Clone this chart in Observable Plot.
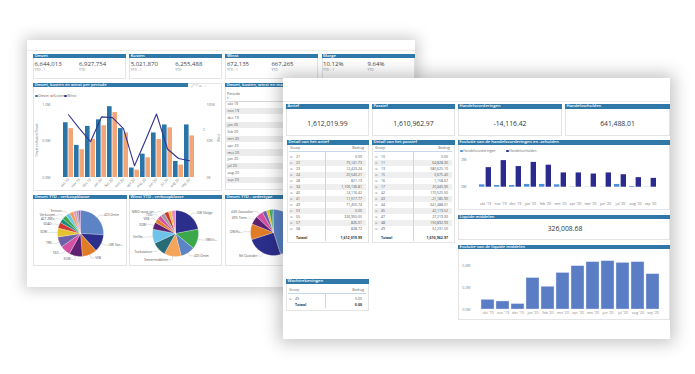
<!DOCTYPE html>
<html><head><meta charset="utf-8">
<script src="https://cdn.jsdelivr.net/npm/d3@7"></script>
<script src="https://cdn.jsdelivr.net/npm/@observablehq/plot@0.6"></script>
<style>
html,body{margin:0;padding:0;background:#fff;}
body{width:695px;height:374px;position:relative;overflow:hidden;font-family:"Open Sans","Noto Sans",sans-serif;}
.card{position:absolute;background:#fff;overflow:hidden;}
.hdr{position:absolute;background:#2f78a8;color:#fff;font-size:4.2px;font-weight:600;line-height:4.7px;height:4.7px;padding-left:1.5px;white-space:nowrap;overflow:hidden;box-sizing:border-box;}
svg{position:absolute;}
</style></head>
<body>
<script>
// ---------------- DATA ----------------
const months = ["okt 19","nov 19","dec 19","jan 20","feb 20","mrt 20","apr 20","mei 20","jun 20","jul 20","aug 20","sep 20"];
const monthsShort = ["okt '19","nov '19","dec '19","jan '20","feb '20","mrt '20","apr '20","mei '20","jun '20","jul '20","aug '20","sep '20"];
const omzetM  = [0.75,0.44,0.70,0.79,0.97,0.67,0.13,0.32,0.61,0.72,0.22,0.72];
const kostenM = [0.67,0.38,0.52,0.71,0.89,0.61,0.10,0.27,0.52,0.68,0.17,0.57];
const winstK  = [86,67,49,83,82,67,16,51,87,39,26,23];

const kpiNames = ["Omzet","Kosten","Winst","Marge"];
const kpiPrev  = ["6,644,013","5,021,870","672,135","10.12%"];
const kpiCur   = ["6,927,754","6,255,488","667,265","9.64%"];

const balNames  = ["Actief","Passief","Handelsvorderingen","Handelsschulden"];
const balValues = ["1,612,019.99","1,610,962.97","-14,116.42","641,488.01"];

const actiefGroups = ["21","22","23","24","28","34","40","41","49","53","55","57","58"];
const actiefValues = ["0.00","75,141.73","12,423.24","20,540.21","821.13","1,106,136.81","-14,116.42","11,017.77","71,450.74","0.00","326,950.05","826.01","828.72"];
const actiefTotal = "1,612,019.99";
const passiefGroups = ["10","11","13","15","16","17","42","43","44","45","47","48","49"];
const passiefValues = ["0.00","64,828.30","580,625.10","5,675.40","1,158.67","20,445.90","170,525.50","-21,185.90","641,488.01","42,119.52","27,219.30","150,892.93","52,231.50"];
const passiefTotal = "1,610,962.97";
const wachtGroups = ["49"];
const wachtValues = ["0.00"];
const wachtTotal = "0.00";

const vorderingenM = [0.17,0.12,0.12,0.20,0.20,0.17,0.02,0.01,0.01,0.20,0.05,-0.014];
const schuldenM    = [1.41,1.92,1.49,1.79,1.59,1.03,1.03,0.95,1.03,0.90,0.69,0.64];
const liquideValue = "326,008.68";
const liquideM     = [0.089,0.074,0.050,0.290,0.210,0.337,0.400,0.437,0.446,0.430,0.437,0.326];

const pie1Labels = ["420 Ontm","OW Van...","VKB","XGW","560","TRK","3OW...","60AD","ALT 2MIs","Verkoopm...","Entrust","","","",""];
const pie1Values = [25,12,10,9,7,7,6,4,3,3,3,2.5,2,1.5,1.5];
const pie1Colors = ["#5b83c6","#2c2e8c","#e07c28","#5c2170","#d44ea3","#6c60a8","#e4c22e","#d3342f","#1f8a7e","#3aa84b","#6ec3ea","#f19b4c","#e58fc4","#9e9e9e","#a35ac0"];
const pie2Labels = ["OW Vlakge","VWE/s...","420 Ontm","Smeermiddelen","Tankstation","Verlfw...","3OW","VKB","TDO","NWO vaste ver...","","",""];
const pie2Values = [22,14,10,12,10,10,5,3,3,3,3,2,3];
const pie2Colors = ["#2c2e8c","#3aa84b","#5b83c6","#f4a55a","#266b75","#6ec3ea","#5c2170","#e07c28","#d44ea3","#9e9e9e","#d3342f","#e4c22e","#e58fc4"];
const pie3Labels = ["Ntl Binnen","Ntl Outsider","OW/Ko...","49% Tiene","44% Gastsaker","","","",""];
const pie3Values = [45,25,11,6,5,3,2,2,1];
const pie3Colors = ["#5b83c6","#2c2e8c","#e07c28","#5c2170","#d44ea3","#6c60a8","#e4c22e","#3aa84b","#1f8a7e"];

// ---------------- HELPERS ----------------
const FONT = '"Open Sans","Noto Sans",sans-serif';
function card(x,y,w,h,z,shadow){const d=document.createElement("div");d.className="card";d.style.cssText=`left:${x}px;top:${y}px;width:${w}px;height:${h}px;z-index:${z};box-shadow:${shadow};`;d._x=x;d._y=y;document.body.appendChild(d);return d;}
function box(p,x,y,w,h,css){const d=document.createElement("div");d.style.cssText=`position:absolute;left:${x-p._x}px;top:${y-p._y}px;width:${w}px;height:${h}px;box-sizing:border-box;`+(css||"");p.appendChild(d);return d;}
function txt(p,x,y,s,css,align){const d=document.createElement("div");d.textContent=s;const tx=align==="c"?"-50%":align==="r"?"-100%":"0";d.style.cssText=`position:absolute;left:${x-p._x}px;top:${y-p._y}px;white-space:nowrap;line-height:1;transform:translate(${tx},-50%);`+(css||"");p.appendChild(d);return d;}
function hdr(p,x0,x1,y,s){const d=box(p,x0,y,x1-x0,4.7);d.className="hdr";d.textContent=s;return d;}
function place(p,svg,x,y){svg.style.position="absolute";svg.style.left=(x-p._x)+"px";svg.style.top=(y-p._y)+"px";p.appendChild(svg);}
function tile(p,x0,x1,y0,y1){box(p,x0,y0,x1-x0,y1-y0,"border:0.6px solid #e4e4e4;");}

// ---------------- BACK CARD ----------------
const back = card(27,40,388,247,1,"0 0 14px 3px rgba(0,0,0,0.20)");
box(back,27,50,388,0.8,"background:#ececec;");
kpiNames.forEach((n,i)=>{
  const x0=33+i*96.2;
  tile(back,x0,x0+93,53.5,79);
  hdr(back,x0,x0+93,53.5,n);
  txt(back,x0+1.5,64,kpiPrev[i],"font-size:6px;color:#444;");
  txt(back,x0+1.5,69.5,"YTD - 1","font-size:3.4px;color:#888;");
  txt(back,x0+46,64,kpiCur[i],"font-size:6px;color:#444;");
  txt(back,x0+46,69.5,"YTD","font-size:3.4px;color:#888;");
});
// combo chart tile
tile(back,33,222,82.5,191);
hdr(back,33,188,82.5,"Omzet, kosten en winst per periode");
txt(back,191,86,"⤢  ▽  ⊡  ⋯","font-size:4px;color:#999;");
const legA=[["Omzet","#2b74a8",35],["Kosten","#f2a677",50],["Winst","#34318f",64]];
legA.forEach(([n,c,x])=>{box(back,x,94.8,2.6,2.6,`background:${c};border-radius:50%;`);txt(back,x+3.3,96.1,n,"font-size:3.4px;color:#666;");});
txt(back,37,140,"Omzet en Kosten/Omzet","font-size:2.9px;color:#777;transform:translate(-50%,-50%) rotate(-90deg);","c");
txt(back,219,138,"Winst","font-size:2.9px;color:#777;transform:translate(-50%,-50%) rotate(-90deg);","c");
txt(back,203,130,"Σ","font-size:4px;color:#999;");

const rowsA = months.map((m,i)=>({m,omzet:omzetM[i],kosten:kostenM[i],winst:winstK[i]}));
{
  const W=190,ml=23,mr=22,pad=0.1;
  const bw=d3.scaleBand().domain(months).range([0,W-ml-mr]).padding(pad).bandwidth();
  const svg=Plot.plot({
    width:W,height:92,marginLeft:ml,marginRight:mr,marginTop:6,marginBottom:13,
    style:{fontSize:"3.6px",fontFamily:FONT,color:"#777",background:"transparent",overflow:"visible"},
    x:{domain:months,padding:pad,tickRotate:-45,tickSize:0,tickPadding:1.5,label:null},
    y:{domain:[0,1.0],ticks:[0,0.5,1],tickFormat:d=>d.toFixed(1)+"M",tickSize:0,tickPadding:6,label:null},
    marks:[
      Plot.barY(rowsA,{x:"m",y:"omzet",fill:"#2b74a8",insetRight:bw/2}),
      Plot.barY(rowsA,{x:"m",y:"kosten",fill:"#f2a677",insetLeft:bw/2}),
      Plot.line(rowsA,{x:"m",y:d=>d.winst/100,stroke:"#34318f",strokeWidth:1.1}),
      Plot.text([0,50,100],{y:d=>d/100,text:d=>d+"K",frameAnchor:"right",textAnchor:"start",dx:5,fill:"#777"})
    ]
  });
  place(back,svg,33,98);
}
// periode slicer
tile(back,225,300,82.5,190);
hdr(back,225,300,82.5,"Omzet, kosten, winst en marge");
txt(back,227,94,"Periode","font-size:3.6px;color:#555;");
txt(back,227,98.3,"▾","font-size:3px;color:#777;");
box(back,225.5,100.6,70,0.6,"background:#d8d8d8;");
months.forEach((m,i)=>{
  const y=104.2+i*6.9;
  if(i%2===1) box(back,225.5,y-3.2,70,6.4,"background:#ececec;");
  txt(back,227.5,y,m,"font-size:3.7px;color:#555;");
});
// pies
function pie(p,left,top,labels,values,colors){
  const R=23;
  const arcs=d3.pie().sort(null).value(d=>d)(values);
  const poly=[],leaders=[],labs=[];
  arcs.forEach((a,i)=>{
    poly.push({k:i,x:0,y:0});
    const n=Math.max(2,Math.ceil((a.endAngle-a.startAngle)/0.04));
    for(let j=0;j<=n;j++){const t=a.startAngle+(a.endAngle-a.startAngle)*j/n;poly.push({k:i,x:R*Math.sin(t),y:R*Math.cos(t)});}
    poly.push({k:i,x:0,y:0});
    if(labels[i]){
      const m=(a.startAngle+a.endAngle)/2,s=Math.sin(m)>=0?1:-1;
      const p0={x:R*Math.sin(m),y:R*Math.cos(m)},p1={x:R*1.15*Math.sin(m),y:R*1.15*Math.cos(m)},p2={x:p1.x+s*3.5,y:p1.y};
      leaders.push({k:i,...p0},{k:i,...p1},{k:i,...p2});
      labs.push({x:p2.x+s*0.8,y:p2.y,t:labels[i],s});
    }
  });
  const svg=Plot.plot({
    width:94,height:70,margin:0,
    style:{fontSize:"3.2px",fontFamily:FONT,background:"transparent",overflow:"visible"},
    x:{domain:[-47,47],axis:null},y:{domain:[-35,35],axis:null},
    color:{type:"identity"},
    marks:[
      Plot.line(poly,{x:"x",y:"y",z:"k",fill:d=>colors[d.k],stroke:"#fff",strokeWidth:0.25,strokeLinejoin:"round"}),
      Plot.line(leaders,{x:"x",y:"y",z:"k",stroke:"#aaa",strokeWidth:0.35}),
      Plot.text(labs.filter(d=>d.s>0),{x:"x",y:"y",text:"t",textAnchor:"start",fill:"#555"}),
      Plot.text(labs.filter(d=>d.s<0),{x:"x",y:"y",text:"t",textAnchor:"end",fill:"#555"})
    ]
  });
  place(p,svg,left,top);
}
[["Omzet YTD - verkoopklasse",33,127],["Winst YTD - verkoopklasse",129,222],["Omzet YTD - ordertype",225,319]].forEach(([n,a,b])=>{tile(back,a,b,194.5,266);hdr(back,a,b,194.5,n);});
pie(back,33,198,pie1Labels,pie1Values,pie1Colors);
pie(back,128,198,pie2Labels,pie2Values,pie2Colors);
pie(back,226,197,pie3Labels,pie3Values,pie3Colors);

// ---------------- FRONT CARD ----------------
const front = card(283,78,387,261,2,"0 0 16px 4px rgba(0,0,0,0.24)");
box(front,283,100.5,387,0.8,"background:#ececec;");
const balX=[[286,369],[372,455],[458,562],[565,670]];
balNames.forEach((n,i)=>{
  const [a,b]=balX[i];
  tile(front,a,b,104,136);
  hdr(front,a,b,104,n);
  txt(front,(a+b)/2,124,balValues[i],"font-size:6.8px;color:#333;","c");
});
function table(p,x0,x1,xSep,yHead,groups,vals,total,title,yTitle,yEnd){
  tile(p,x0,x1,yTitle,yEnd);
  hdr(p,x0,x1,yTitle,title);
  txt(p,x0+3,yHead,"Groep","font-size:3.5px;color:#666;");
  txt(p,x1-5,yHead,"Bedrag","font-size:3.5px;color:#666;","r");
  box(p,x0+2,yHead+2.6,x1-x0-5,0.7,"background:#c6d7ea;");
  groups.forEach((g,i)=>{
    const y=yHead+9.3+6*i;
    if(i%2===1) box(p,x0+2,y-3,x1-x0-5,6,"background:#efefef;");
    txt(p,x0+3,y,"⊞","font-size:3.4px;color:#aaa;");
    txt(p,x0+9,y,g,"font-size:3.5px;color:#555;");
    txt(p,x1-7,y,vals[i],"font-size:3.5px;color:#555;","r");
  });
  const yt=yHead+9.3+6*(groups.length-1)+(groups.length>1?9:5.5);
  txt(p,x0+9,yt,"Totaal","font-size:3.6px;color:#333;font-weight:700;");
  txt(p,x1-7,yt,total,"font-size:3.6px;color:#333;font-weight:700;","r");
  box(p,xSep,yHead+3,0.7,yt-yHead,"background:#c6d7ea;");
}
table(front,287,369,325,148,actiefGroups,actiefValues,actiefTotal,"Detail van het actief",140,243);
table(front,372,455,413,148,passiefGroups,passiefValues,passiefTotal,"Detail van het passief",140,243);
table(front,286,369,325,290,wachtGroups,wachtValues,wachtTotal,"Wachtrekeningen",279,311);

// evolutie handelsvorderingen
tile(front,458,670,140,210);
hdr(front,458,670,140,"Evolutie van de handelsvorderingen en -schulden");
[["Handelsvorderingen","#4a8fd8",460],["Handelsschulden","#2b2a8f",506]].forEach(([n,c,x])=>{box(front,x,149.8,2.6,2.6,`background:${c};border-radius:50%;`);txt(front,x+3.3,151.1,n,"font-size:3.4px;color:#666;");});
const rowsB = monthsShort.map((m,i)=>({m,v:vorderingenM[i],s:schuldenM[i]}));
{
  const W=210,ml=14,mr=6,pad=0.2;
  const bw=d3.scaleBand().domain(monthsShort).range([0,W-ml-mr]).padding(pad).bandwidth();
  const svg=Plot.plot({
    width:W,height:54,marginLeft:ml,marginRight:mr,marginTop:4,marginBottom:21.6,
    style:{fontSize:"3.6px",fontFamily:FONT,color:"#777",background:"transparent",overflow:"visible"},
    x:{domain:monthsShort,padding:pad,tickSize:0,tickPadding:15,label:null},
    y:{domain:[-0.05,2],ticks:[0,2],tickFormat:d=>d+"M",tickSize:0,tickPadding:6,label:null},
    marks:[
      Plot.barY(rowsB,{x:"m",y:"v",fill:"#4a8fd8",insetRight:bw/2+0.4}),
      Plot.barY(rowsB,{x:"m",y:"s",fill:"#2b2a8f",insetLeft:bw/2+0.4})
    ]
  });
  place(front,svg,458,155);
}
// liquide middelen
tile(front,458,670,214.5,240);
hdr(front,458,670,214.5,"Liquide middelen");
txt(front,565,229,liquideValue,"font-size:6.8px;color:#333;","c");
tile(front,458,670,244.5,320);
hdr(front,458,670,244.5,"Evolutie van de liquide middelen");
const rowsC = monthsShort.map((m,i)=>({m,v:liquideM[i]}));
{
  const svg=Plot.plot({
    width:210,height:62,marginLeft:18,marginRight:5,marginTop:2,marginBottom:8,
    style:{fontSize:"3.6px",fontFamily:FONT,color:"#888",background:"transparent",overflow:"visible"},
    x:{domain:monthsShort,padding:0.16,tickSize:0,tickPadding:2,label:null},
    y:{domain:[0,0.48],ticks:[0,0.2,0.4],tickFormat:d=>d.toFixed(1)+"M",tickSize:0,tickPadding:6,label:null},
    marks:[
      Plot.barY(rowsC,{x:"m",y:"v",fill:"#5a7dc6",stroke:"#dfe7f5",strokeWidth:0.4})
    ]
  });
  place(front,svg,458,255);
}
</script>
</body></html>
